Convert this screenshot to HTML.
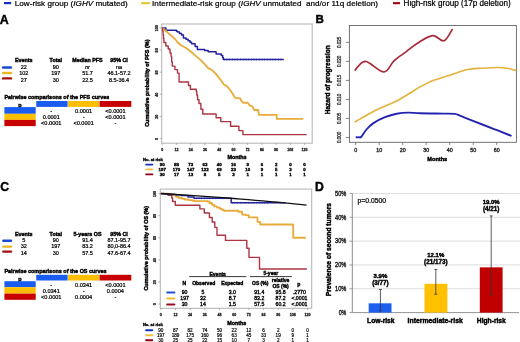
<!DOCTYPE html>
<html><head><meta charset="utf-8"><style>
html,body{margin:0;padding:0;background:#fff;}
svg{display:block;font-family:"Liberation Sans", sans-serif;will-change:transform;filter:blur(0.3px);}
</style></head><body>
<svg width="520" height="342" viewBox="0 0 520 342">
<rect width="520" height="342" fill="#fff"/>
<rect x="4" y="2" width="7.2" height="2.2" fill="#1a30c4"/>
<text x="14.7" y="5.8" text-anchor="start" style="font-size:8.1px;font-weight:400;stroke:#000;stroke-width:0.22px;" fill="#000" textLength="113" lengthAdjust="spacing">Low-risk group (<tspan font-style="italic">IGHV</tspan> mutated)</text>
<rect x="141.2" y="2.1" width="8.8" height="2.1" fill="#e4c832"/>
<text x="152.1" y="5.8" text-anchor="start" style="font-size:8.1px;font-weight:400;stroke:#000;stroke-width:0.22px;" fill="#000" textLength="225.8" lengthAdjust="spacing">Intermediate-risk group (<tspan font-style="italic">IGHV</tspan> unmutated&#160; and/or 11q deletion)</text>
<rect x="393" y="2.1" width="7.1" height="2.1" fill="#a8001c"/>
<text x="403.6" y="5.8" text-anchor="start" style="font-size:8.15px;font-weight:400;stroke:#000;stroke-width:0.22px;" fill="#000">High-risk group (17p deletion)</text>
<text x="-0.3" y="23.8" text-anchor="start" style="font-size:12.4px;font-weight:700;stroke:#000;stroke-width:0.42px;" fill="#000">A</text>
<text x="315.4" y="23.3" text-anchor="start" style="font-size:11.6px;font-weight:700;stroke:#000;stroke-width:0.42px;" fill="#000">B</text>
<text x="0.2" y="190.7" text-anchor="start" style="font-size:12.2px;font-weight:700;stroke:#000;stroke-width:0.42px;" fill="#000">C</text>
<text x="314.9" y="190.6" text-anchor="start" style="font-size:12.2px;font-weight:700;stroke:#000;stroke-width:0.42px;" fill="#000">D</text>
<text x="23.75" y="62.23" text-anchor="middle" style="font-size:5.35px;font-weight:700;stroke:#000;stroke-width:0.41px;" fill="#000">Events</text>
<text x="55.8" y="62.23" text-anchor="middle" style="font-size:5.35px;font-weight:700;stroke:#000;stroke-width:0.41px;" fill="#000">Total</text>
<text x="87.5" y="62.23" text-anchor="middle" style="font-size:5.35px;font-weight:700;stroke:#000;stroke-width:0.41px;" fill="#000">Median PFS</text>
<text x="119.0" y="62.23" text-anchor="middle" style="font-size:5.35px;font-weight:700;stroke:#000;stroke-width:0.41px;" fill="#000">95% CI</text>
<line x1="3.1" y1="67.5" x2="10.9" y2="67.5" stroke="#1a48d0" stroke-width="2.4" stroke-linecap="round"/>
<text x="23.75" y="69.08" text-anchor="middle" style="font-size:5.5px;font-weight:400;stroke:#000;stroke-width:0.22px;" fill="#000">22</text>
<text x="55.8" y="69.08" text-anchor="middle" style="font-size:5.5px;font-weight:400;stroke:#000;stroke-width:0.22px;" fill="#000">90</text>
<text x="87.5" y="69.08" text-anchor="middle" style="font-size:5.5px;font-weight:400;font-style:italic;stroke:#000;stroke-width:0.22px;" fill="#000">nr</text>
<text x="119.0" y="69.08" text-anchor="middle" style="font-size:5.5px;font-weight:400;stroke:#000;stroke-width:0.22px;" fill="#000">na</text>
<line x1="3.1" y1="73.0" x2="10.9" y2="73.0" stroke="#eab820" stroke-width="2.4" stroke-linecap="round"/>
<text x="23.75" y="75.48" text-anchor="middle" style="font-size:5.5px;font-weight:400;stroke:#000;stroke-width:0.22px;" fill="#000">102</text>
<text x="55.8" y="75.48" text-anchor="middle" style="font-size:5.5px;font-weight:400;stroke:#000;stroke-width:0.22px;" fill="#000">197</text>
<text x="87.5" y="75.48" text-anchor="middle" style="font-size:5.5px;font-weight:400;stroke:#000;stroke-width:0.22px;" fill="#000">51.7</text>
<text x="119.0" y="75.48" text-anchor="middle" style="font-size:5.5px;font-weight:400;stroke:#000;stroke-width:0.22px;" fill="#000">46.1-57.2</text>
<line x1="3.1" y1="78.4" x2="10.9" y2="78.4" stroke="#a01010" stroke-width="2.4" stroke-linecap="round"/>
<text x="23.75" y="81.68" text-anchor="middle" style="font-size:5.5px;font-weight:400;stroke:#000;stroke-width:0.22px;" fill="#000">27</text>
<text x="55.8" y="81.68" text-anchor="middle" style="font-size:5.5px;font-weight:400;stroke:#000;stroke-width:0.22px;" fill="#000">30</text>
<text x="87.5" y="81.68" text-anchor="middle" style="font-size:5.5px;font-weight:400;stroke:#000;stroke-width:0.22px;" fill="#000">22.5</text>
<text x="119.0" y="81.68" text-anchor="middle" style="font-size:5.5px;font-weight:400;stroke:#000;stroke-width:0.22px;" fill="#000">8.5-36.4</text>
<text x="23.75" y="235.53" text-anchor="middle" style="font-size:5.35px;font-weight:700;stroke:#000;stroke-width:0.41px;" fill="#000">Events</text>
<text x="55.8" y="235.53" text-anchor="middle" style="font-size:5.35px;font-weight:700;stroke:#000;stroke-width:0.41px;" fill="#000">Total</text>
<text x="87.5" y="235.53" text-anchor="middle" style="font-size:5.35px;font-weight:700;stroke:#000;stroke-width:0.41px;" fill="#000">5-years OS</text>
<text x="119.0" y="235.53" text-anchor="middle" style="font-size:5.35px;font-weight:700;stroke:#000;stroke-width:0.41px;" fill="#000">95% CI</text>
<line x1="3.35" y1="240.7" x2="11.0" y2="240.7" stroke="#1a48d0" stroke-width="2.4" stroke-linecap="round"/>
<text x="23.75" y="241.98" text-anchor="middle" style="font-size:5.5px;font-weight:400;stroke:#000;stroke-width:0.22px;" fill="#000">5</text>
<text x="55.8" y="241.98" text-anchor="middle" style="font-size:5.5px;font-weight:400;stroke:#000;stroke-width:0.22px;" fill="#000">90</text>
<text x="87.5" y="241.98" text-anchor="middle" style="font-size:5.5px;font-weight:400;stroke:#000;stroke-width:0.22px;" fill="#000">91.4</text>
<text x="119.0" y="241.98" text-anchor="middle" style="font-size:5.5px;font-weight:400;stroke:#000;stroke-width:0.22px;" fill="#000">87.1-95.7</text>
<line x1="3.35" y1="246.6" x2="11.0" y2="246.6" stroke="#eab820" stroke-width="2.4" stroke-linecap="round"/>
<text x="23.75" y="248.48" text-anchor="middle" style="font-size:5.5px;font-weight:400;stroke:#000;stroke-width:0.22px;" fill="#000">32</text>
<text x="55.8" y="248.48" text-anchor="middle" style="font-size:5.5px;font-weight:400;stroke:#000;stroke-width:0.22px;" fill="#000">197</text>
<text x="87.5" y="248.48" text-anchor="middle" style="font-size:5.5px;font-weight:400;stroke:#000;stroke-width:0.22px;" fill="#000">83.2</text>
<text x="119.0" y="248.48" text-anchor="middle" style="font-size:5.5px;font-weight:400;stroke:#000;stroke-width:0.22px;" fill="#000">80,0-86.4</text>
<line x1="3.35" y1="251.6" x2="11.0" y2="251.6" stroke="#a01010" stroke-width="2.4" stroke-linecap="round"/>
<text x="23.75" y="254.88" text-anchor="middle" style="font-size:5.5px;font-weight:400;stroke:#000;stroke-width:0.22px;" fill="#000">14</text>
<text x="55.8" y="254.88" text-anchor="middle" style="font-size:5.5px;font-weight:400;stroke:#000;stroke-width:0.22px;" fill="#000">30</text>
<text x="87.5" y="254.88" text-anchor="middle" style="font-size:5.5px;font-weight:400;stroke:#000;stroke-width:0.22px;" fill="#000">57.5</text>
<text x="119.0" y="254.88" text-anchor="middle" style="font-size:5.5px;font-weight:400;stroke:#000;stroke-width:0.22px;" fill="#000">47.6-67.4</text>
<text x="4.4" y="99.36" text-anchor="start" style="font-size:5.45px;font-weight:700;stroke:#000;stroke-width:0.42px;" fill="#000">Pairwise comparisons of the PFS curves</text>
<text x="20" y="107.14" text-anchor="middle" style="font-size:5.4px;font-weight:700;stroke:#000;stroke-width:0.41px;" fill="#000">p</text>
<rect x="36.25" y="101.0" width="31.35" height="5.9" fill="#1a5cf0"/>
<rect x="68.0" y="101.0" width="31.4" height="5.9" fill="#ffbe00"/>
<rect x="99.6" y="101.0" width="31.7" height="5.9" fill="#c80000"/>
<rect x="4.4" y="107.1" width="31.3" height="6.7" fill="#1a5cf0"/>
<rect x="4.4" y="113.8" width="31.3" height="6.1" fill="#ffbe00"/>
<rect x="4.4" y="119.9" width="31.3" height="6.2" fill="#c80000"/>
<text x="51.3" y="112.87" text-anchor="middle" style="font-size:5.6px;font-weight:400;stroke:#000;stroke-width:0.22px;" fill="#000">-</text>
<text x="83.6" y="112.87" text-anchor="middle" style="font-size:5.6px;font-weight:400;stroke:#000;stroke-width:0.22px;" fill="#000">0.0001</text>
<text x="115.4" y="112.87" text-anchor="middle" style="font-size:5.6px;font-weight:400;stroke:#000;stroke-width:0.22px;" fill="#000">&lt;0.0001</text>
<text x="51.3" y="119.27" text-anchor="middle" style="font-size:5.6px;font-weight:400;stroke:#000;stroke-width:0.22px;" fill="#000">0.0001</text>
<text x="83.6" y="119.27" text-anchor="middle" style="font-size:5.6px;font-weight:400;stroke:#000;stroke-width:0.22px;" fill="#000">-</text>
<text x="115.4" y="119.27" text-anchor="middle" style="font-size:5.6px;font-weight:400;stroke:#000;stroke-width:0.22px;" fill="#000">&lt;0.0001</text>
<text x="51.3" y="125.42" text-anchor="middle" style="font-size:5.6px;font-weight:400;stroke:#000;stroke-width:0.22px;" fill="#000">&lt;0.0001</text>
<text x="83.6" y="125.42" text-anchor="middle" style="font-size:5.6px;font-weight:400;stroke:#000;stroke-width:0.22px;" fill="#000">&lt;0.0001</text>
<text x="115.4" y="125.42" text-anchor="middle" style="font-size:5.6px;font-weight:400;stroke:#000;stroke-width:0.22px;" fill="#000">-</text>
<text x="4.4" y="272.76" text-anchor="start" style="font-size:5.45px;font-weight:700;stroke:#000;stroke-width:0.42px;" fill="#000">Pairwise comparisons of the OS curves</text>
<text x="20" y="280.94" text-anchor="middle" style="font-size:5.4px;font-weight:700;stroke:#000;stroke-width:0.41px;" fill="#000">p</text>
<rect x="36.25" y="274.8" width="31.35" height="5.7" fill="#1a5cf0"/>
<rect x="68.0" y="274.8" width="31.4" height="5.7" fill="#ffbe00"/>
<rect x="99.6" y="274.8" width="31.7" height="5.7" fill="#c80000"/>
<rect x="4.4" y="281.2" width="31.3" height="6.0" fill="#1a5cf0"/>
<rect x="4.4" y="287.2" width="31.3" height="6.4" fill="#ffbe00"/>
<rect x="4.4" y="293.6" width="31.3" height="6.2" fill="#c80000"/>
<text x="51.3" y="286.62" text-anchor="middle" style="font-size:5.6px;font-weight:400;stroke:#000;stroke-width:0.22px;" fill="#000">-</text>
<text x="83.6" y="286.62" text-anchor="middle" style="font-size:5.6px;font-weight:400;stroke:#000;stroke-width:0.22px;" fill="#000">0.0341</text>
<text x="115.4" y="286.62" text-anchor="middle" style="font-size:5.6px;font-weight:400;stroke:#000;stroke-width:0.22px;" fill="#000">&lt;0.0001</text>
<text x="51.3" y="292.82" text-anchor="middle" style="font-size:5.6px;font-weight:400;stroke:#000;stroke-width:0.22px;" fill="#000">0.0341</text>
<text x="83.6" y="292.82" text-anchor="middle" style="font-size:5.6px;font-weight:400;stroke:#000;stroke-width:0.22px;" fill="#000">-</text>
<text x="115.4" y="292.82" text-anchor="middle" style="font-size:5.6px;font-weight:400;stroke:#000;stroke-width:0.22px;" fill="#000">0.0004</text>
<text x="51.3" y="299.12" text-anchor="middle" style="font-size:5.6px;font-weight:400;stroke:#000;stroke-width:0.22px;" fill="#000">&lt;0.0001</text>
<text x="83.6" y="299.12" text-anchor="middle" style="font-size:5.6px;font-weight:400;stroke:#000;stroke-width:0.22px;" fill="#000">0.0004</text>
<text x="115.4" y="299.12" text-anchor="middle" style="font-size:5.6px;font-weight:400;stroke:#000;stroke-width:0.22px;" fill="#000">-</text>
<rect x="161.7" y="24.0" width="150.5" height="119.2" fill="none" stroke="#b8b8b8" stroke-width="1.1"/>
<line x1="159.7" y1="138.6" x2="161.7" y2="138.6" stroke="#888" stroke-width="0.6"/>
<text x="156.6" y="138.9" text-anchor="middle" style="font-size:3.7px;font-weight:700;stroke:#222;stroke-width:0.28px;" fill="#222" transform="rotate(-90 156.6 138.9)" dy="1.25">0</text>
<line x1="159.7" y1="116.46" x2="161.7" y2="116.46" stroke="#888" stroke-width="0.6"/>
<text x="156.6" y="116.75999999999999" text-anchor="middle" style="font-size:3.7px;font-weight:700;stroke:#222;stroke-width:0.28px;" fill="#222" transform="rotate(-90 156.6 116.75999999999999)" dy="1.25">20</text>
<line x1="159.7" y1="94.32" x2="161.7" y2="94.32" stroke="#888" stroke-width="0.6"/>
<text x="156.6" y="94.61999999999999" text-anchor="middle" style="font-size:3.7px;font-weight:700;stroke:#222;stroke-width:0.28px;" fill="#222" transform="rotate(-90 156.6 94.61999999999999)" dy="1.25">40</text>
<line x1="159.7" y1="72.18" x2="161.7" y2="72.18" stroke="#888" stroke-width="0.6"/>
<text x="156.6" y="72.48" text-anchor="middle" style="font-size:3.7px;font-weight:700;stroke:#222;stroke-width:0.28px;" fill="#222" transform="rotate(-90 156.6 72.48)" dy="1.25">60</text>
<line x1="159.7" y1="50.040000000000006" x2="161.7" y2="50.040000000000006" stroke="#888" stroke-width="0.6"/>
<text x="156.6" y="50.34" text-anchor="middle" style="font-size:3.7px;font-weight:700;stroke:#222;stroke-width:0.28px;" fill="#222" transform="rotate(-90 156.6 50.34)" dy="1.25">80</text>
<line x1="159.7" y1="27.89999999999999" x2="161.7" y2="27.89999999999999" stroke="#888" stroke-width="0.6"/>
<text x="156.6" y="28.199999999999992" text-anchor="middle" style="font-size:3.7px;font-weight:700;stroke:#222;stroke-width:0.28px;" fill="#222" transform="rotate(-90 156.6 28.199999999999992)" dy="1.25">100</text>
<line x1="162.2" y1="143.2" x2="162.2" y2="145.0" stroke="#888" stroke-width="0.6"/>
<text x="162.2" y="151.1" text-anchor="middle" style="font-size:3.6px;font-weight:700;stroke:#222;stroke-width:0.27px;" fill="#222">0</text>
<line x1="176.44" y1="143.2" x2="176.44" y2="145.0" stroke="#888" stroke-width="0.6"/>
<text x="176.44" y="151.1" text-anchor="middle" style="font-size:3.6px;font-weight:700;stroke:#222;stroke-width:0.27px;" fill="#222">12</text>
<line x1="190.68" y1="143.2" x2="190.68" y2="145.0" stroke="#888" stroke-width="0.6"/>
<text x="190.68" y="151.1" text-anchor="middle" style="font-size:3.6px;font-weight:700;stroke:#222;stroke-width:0.27px;" fill="#222">24</text>
<line x1="204.92000000000002" y1="143.2" x2="204.92000000000002" y2="145.0" stroke="#888" stroke-width="0.6"/>
<text x="204.92000000000002" y="151.1" text-anchor="middle" style="font-size:3.6px;font-weight:700;stroke:#222;stroke-width:0.27px;" fill="#222">36</text>
<line x1="219.16" y1="143.2" x2="219.16" y2="145.0" stroke="#888" stroke-width="0.6"/>
<text x="219.16" y="151.1" text-anchor="middle" style="font-size:3.6px;font-weight:700;stroke:#222;stroke-width:0.27px;" fill="#222">48</text>
<line x1="233.4" y1="143.2" x2="233.4" y2="145.0" stroke="#888" stroke-width="0.6"/>
<text x="233.4" y="151.1" text-anchor="middle" style="font-size:3.6px;font-weight:700;stroke:#222;stroke-width:0.27px;" fill="#222">60</text>
<line x1="247.64000000000001" y1="143.2" x2="247.64000000000001" y2="145.0" stroke="#888" stroke-width="0.6"/>
<text x="247.64000000000001" y="151.1" text-anchor="middle" style="font-size:3.6px;font-weight:700;stroke:#222;stroke-width:0.27px;" fill="#222">72</text>
<line x1="261.88" y1="143.2" x2="261.88" y2="145.0" stroke="#888" stroke-width="0.6"/>
<text x="261.88" y="151.1" text-anchor="middle" style="font-size:3.6px;font-weight:700;stroke:#222;stroke-width:0.27px;" fill="#222">84</text>
<line x1="276.12" y1="143.2" x2="276.12" y2="145.0" stroke="#888" stroke-width="0.6"/>
<text x="276.12" y="151.1" text-anchor="middle" style="font-size:3.6px;font-weight:700;stroke:#222;stroke-width:0.27px;" fill="#222">96</text>
<line x1="290.36" y1="143.2" x2="290.36" y2="145.0" stroke="#888" stroke-width="0.6"/>
<text x="290.36" y="151.1" text-anchor="middle" style="font-size:3.6px;font-weight:700;stroke:#222;stroke-width:0.27px;" fill="#222">108</text>
<line x1="304.6" y1="143.2" x2="304.6" y2="145.0" stroke="#888" stroke-width="0.6"/>
<text x="304.6" y="151.1" text-anchor="middle" style="font-size:3.6px;font-weight:700;stroke:#222;stroke-width:0.27px;" fill="#222">120</text>
<text x="148.70000000000002" y="83.2" text-anchor="middle" style="font-size:5.45px;font-weight:700;stroke:#000;stroke-width:0.42px;" fill="#000" transform="rotate(-90 148.70000000000002 83.2)">Cumulative probability of PFS (%)</text>
<text x="237.0" y="159.04" text-anchor="middle" style="font-size:5.4px;font-weight:700;stroke:#000;stroke-width:0.41px;" fill="#000">Months</text>
<text x="143.0" y="160.58" text-anchor="start" style="font-size:4.1px;font-weight:700;stroke:#000;stroke-width:0.31px;" fill="#000">No. at risk</text>
<line x1="146.2" y1="164.6" x2="152.4" y2="164.6" stroke="#1030c0" stroke-width="1.9" stroke-linecap="round"/>
<text x="162.2" y="166.18" text-anchor="middle" style="font-size:4.4px;font-weight:700;stroke:#000;stroke-width:0.34px;" fill="#000">90</text>
<text x="176.44" y="166.18" text-anchor="middle" style="font-size:4.4px;font-weight:700;stroke:#000;stroke-width:0.34px;" fill="#000">88</text>
<text x="190.68" y="166.18" text-anchor="middle" style="font-size:4.4px;font-weight:700;stroke:#000;stroke-width:0.34px;" fill="#000">73</text>
<text x="204.92000000000002" y="166.18" text-anchor="middle" style="font-size:4.4px;font-weight:700;stroke:#000;stroke-width:0.34px;" fill="#000">63</text>
<text x="219.16" y="166.18" text-anchor="middle" style="font-size:4.4px;font-weight:700;stroke:#000;stroke-width:0.34px;" fill="#000">40</text>
<text x="233.4" y="166.18" text-anchor="middle" style="font-size:4.4px;font-weight:700;stroke:#000;stroke-width:0.34px;" fill="#000">16</text>
<text x="247.64000000000001" y="166.18" text-anchor="middle" style="font-size:4.4px;font-weight:700;stroke:#000;stroke-width:0.34px;" fill="#000">9</text>
<text x="261.88" y="166.18" text-anchor="middle" style="font-size:4.4px;font-weight:700;stroke:#000;stroke-width:0.34px;" fill="#000">6</text>
<text x="276.12" y="166.18" text-anchor="middle" style="font-size:4.4px;font-weight:700;stroke:#000;stroke-width:0.34px;" fill="#000">2</text>
<text x="290.36" y="166.18" text-anchor="middle" style="font-size:4.4px;font-weight:700;stroke:#000;stroke-width:0.34px;" fill="#000">0</text>
<text x="304.6" y="166.18" text-anchor="middle" style="font-size:4.4px;font-weight:700;stroke:#000;stroke-width:0.34px;" fill="#000">0</text>
<line x1="146.2" y1="169.4" x2="152.4" y2="169.4" stroke="#f0c040" stroke-width="1.9" stroke-linecap="round"/>
<text x="162.2" y="170.98" text-anchor="middle" style="font-size:4.4px;font-weight:700;stroke:#000;stroke-width:0.34px;" fill="#000">197</text>
<text x="176.44" y="170.98" text-anchor="middle" style="font-size:4.4px;font-weight:700;stroke:#000;stroke-width:0.34px;" fill="#000">170</text>
<text x="190.68" y="170.98" text-anchor="middle" style="font-size:4.4px;font-weight:700;stroke:#000;stroke-width:0.34px;" fill="#000">147</text>
<text x="204.92000000000002" y="170.98" text-anchor="middle" style="font-size:4.4px;font-weight:700;stroke:#000;stroke-width:0.34px;" fill="#000">122</text>
<text x="219.16" y="170.98" text-anchor="middle" style="font-size:4.4px;font-weight:700;stroke:#000;stroke-width:0.34px;" fill="#000">69</text>
<text x="233.4" y="170.98" text-anchor="middle" style="font-size:4.4px;font-weight:700;stroke:#000;stroke-width:0.34px;" fill="#000">23</text>
<text x="247.64000000000001" y="170.98" text-anchor="middle" style="font-size:4.4px;font-weight:700;stroke:#000;stroke-width:0.34px;" fill="#000">10</text>
<text x="261.88" y="170.98" text-anchor="middle" style="font-size:4.4px;font-weight:700;stroke:#000;stroke-width:0.34px;" fill="#000">9</text>
<text x="276.12" y="170.98" text-anchor="middle" style="font-size:4.4px;font-weight:700;stroke:#000;stroke-width:0.34px;" fill="#000">5</text>
<text x="290.36" y="170.98" text-anchor="middle" style="font-size:4.4px;font-weight:700;stroke:#000;stroke-width:0.34px;" fill="#000">3</text>
<text x="304.6" y="170.98" text-anchor="middle" style="font-size:4.4px;font-weight:700;stroke:#000;stroke-width:0.34px;" fill="#000">0</text>
<line x1="146.2" y1="174.4" x2="152.4" y2="174.4" stroke="#900010" stroke-width="1.9" stroke-linecap="round"/>
<text x="162.2" y="175.98" text-anchor="middle" style="font-size:4.4px;font-weight:700;stroke:#000;stroke-width:0.34px;" fill="#000">30</text>
<text x="176.44" y="175.98" text-anchor="middle" style="font-size:4.4px;font-weight:700;stroke:#000;stroke-width:0.34px;" fill="#000">17</text>
<text x="190.68" y="175.98" text-anchor="middle" style="font-size:4.4px;font-weight:700;stroke:#000;stroke-width:0.34px;" fill="#000">13</text>
<text x="204.92000000000002" y="175.98" text-anchor="middle" style="font-size:4.4px;font-weight:700;stroke:#000;stroke-width:0.34px;" fill="#000">8</text>
<text x="219.16" y="175.98" text-anchor="middle" style="font-size:4.4px;font-weight:700;stroke:#000;stroke-width:0.34px;" fill="#000">5</text>
<text x="233.4" y="175.98" text-anchor="middle" style="font-size:4.4px;font-weight:700;stroke:#000;stroke-width:0.34px;" fill="#000">3</text>
<text x="247.64000000000001" y="175.98" text-anchor="middle" style="font-size:4.4px;font-weight:700;stroke:#000;stroke-width:0.34px;" fill="#000">1</text>
<text x="261.88" y="175.98" text-anchor="middle" style="font-size:4.4px;font-weight:700;stroke:#000;stroke-width:0.34px;" fill="#000">1</text>
<text x="276.12" y="175.98" text-anchor="middle" style="font-size:4.4px;font-weight:700;stroke:#000;stroke-width:0.34px;" fill="#000">1</text>
<text x="290.36" y="175.98" text-anchor="middle" style="font-size:4.4px;font-weight:700;stroke:#000;stroke-width:0.34px;" fill="#000">1</text>
<text x="304.6" y="175.98" text-anchor="middle" style="font-size:4.4px;font-weight:700;stroke:#000;stroke-width:0.34px;" fill="#000">1</text>
<polyline points="162.4,27.9 165.8,27.9 165.8,30.3 176.5,30.3 176.5,31.2 177.5,31.2 177.5,32 179.5,32 179.5,33.5 181.6,33.5 181.6,35 183.4,35 183.4,37.9 186,37.9 186,39.3 188.1,39.3 188.1,40.8 190,40.8 190,42.2 191.6,42.2 191.6,43.7 195.1,43.7 195.1,46.6 197.4,46.6 197.4,49.6 204.7,49.6 204.7,50.6 208.2,50.6 208.2,51.8 216.1,51.8 216.1,54.0 221.3,54.0 221.3,55.6 222.7,55.6 222.7,57.6 223.3,57.6 223.3,59.4 283.7,59.4 283.7,59.4" fill="none" stroke="#2222a0" stroke-width="1.5" stroke-linejoin="round"/>
<polyline points="162.4,27.9 167,32 171.7,36.1 175.2,39.2 177.5,42.2 181,45.2 185.7,47.8 190.4,51.3 195.1,55.4 201.6,60.9 208.2,68.2 212.1,70.1 216.1,74.1 221.3,80.7 223.9,84.6 226.6,85.9 230.5,90.5 235.1,97.8 240.3,98.4 241,100.5 243,102.7 247.7,102.7 249.3,105.1 252.5,106.7 254.2,110 258.2,110 259,114.8 276.7,114.8 276.7,118.8 303.3,118.8" fill="none" stroke="#e8ac3c" stroke-width="1.85" stroke-linejoin="round"/>
<line x1="224" y1="59.4" x2="283.5" y2="59.4" stroke="#3434a0" stroke-width="2.3" stroke-dasharray="0.5 2.2"/>
<polyline points="162.4,27.9 162.6,27.9 162.6,31 163.1,31 163.1,35 163.5,35 163.5,38.5 163.9,38.5 163.9,42.5 165.8,42.5 165.8,46 168.2,46 168.2,49 170,49 170,53 171.1,53 171.1,56.6 171.7,56.6 171.7,62 172.3,62 172.3,66.1 174.9,66.1 174.9,69.6 177.5,69.6 177.5,73.1 179.1,73.1 179.1,82.0 188.5,82.0 188.5,85.5 190.4,85.5 190.4,89.3 196.3,89.3 196.3,91.5 196.8,91.5 196.8,95 197.6,95 197.6,99.7 199,99.7 199,103.5 200.9,103.5 200.9,109.2 202.8,109.2 202.8,114 216.1,114 216.1,117.8 220.8,117.8 220.8,121.6 230.6,121.6 230.6,126.3 238.9,126.3 238.9,130.6 242.9,130.6 242.9,134.6 306.6,134.6" fill="none" stroke="#ae3444" stroke-width="1.4" stroke-linejoin="round"/>
<rect x="160.3" y="189.1" width="151.4" height="119.2" fill="none" stroke="#b8b8b8" stroke-width="1.1"/>
<line x1="158.3" y1="304.0" x2="160.3" y2="304.0" stroke="#888" stroke-width="0.6"/>
<text x="155.0" y="304.3" text-anchor="middle" style="font-size:3.7px;font-weight:700;stroke:#222;stroke-width:0.28px;" fill="#222" transform="rotate(-90 155.0 304.3)" dy="1.25">0</text>
<line x1="158.3" y1="281.92" x2="160.3" y2="281.92" stroke="#888" stroke-width="0.6"/>
<text x="155.0" y="282.22" text-anchor="middle" style="font-size:3.7px;font-weight:700;stroke:#222;stroke-width:0.28px;" fill="#222" transform="rotate(-90 155.0 282.22)" dy="1.25">20</text>
<line x1="158.3" y1="259.84" x2="160.3" y2="259.84" stroke="#888" stroke-width="0.6"/>
<text x="155.0" y="260.14" text-anchor="middle" style="font-size:3.7px;font-weight:700;stroke:#222;stroke-width:0.28px;" fill="#222" transform="rotate(-90 155.0 260.14)" dy="1.25">40</text>
<line x1="158.3" y1="237.76" x2="160.3" y2="237.76" stroke="#888" stroke-width="0.6"/>
<text x="155.0" y="238.06" text-anchor="middle" style="font-size:3.7px;font-weight:700;stroke:#222;stroke-width:0.28px;" fill="#222" transform="rotate(-90 155.0 238.06)" dy="1.25">60</text>
<line x1="158.3" y1="215.68" x2="160.3" y2="215.68" stroke="#888" stroke-width="0.6"/>
<text x="155.0" y="215.98000000000002" text-anchor="middle" style="font-size:3.7px;font-weight:700;stroke:#222;stroke-width:0.28px;" fill="#222" transform="rotate(-90 155.0 215.98000000000002)" dy="1.25">80</text>
<line x1="158.3" y1="193.6" x2="160.3" y2="193.6" stroke="#888" stroke-width="0.6"/>
<text x="155.0" y="193.9" text-anchor="middle" style="font-size:3.7px;font-weight:700;stroke:#222;stroke-width:0.28px;" fill="#222" transform="rotate(-90 155.0 193.9)" dy="1.25">100</text>
<line x1="160.8" y1="308.3" x2="160.8" y2="310.1" stroke="#888" stroke-width="0.6"/>
<text x="160.8" y="316.2" text-anchor="middle" style="font-size:3.6px;font-weight:700;stroke:#222;stroke-width:0.27px;" fill="#222">0</text>
<line x1="175.47" y1="308.3" x2="175.47" y2="310.1" stroke="#888" stroke-width="0.6"/>
<text x="175.47" y="316.2" text-anchor="middle" style="font-size:3.6px;font-weight:700;stroke:#222;stroke-width:0.27px;" fill="#222">12</text>
<line x1="190.14000000000001" y1="308.3" x2="190.14000000000001" y2="310.1" stroke="#888" stroke-width="0.6"/>
<text x="190.14000000000001" y="316.2" text-anchor="middle" style="font-size:3.6px;font-weight:700;stroke:#222;stroke-width:0.27px;" fill="#222">24</text>
<line x1="204.81" y1="308.3" x2="204.81" y2="310.1" stroke="#888" stroke-width="0.6"/>
<text x="204.81" y="316.2" text-anchor="middle" style="font-size:3.6px;font-weight:700;stroke:#222;stroke-width:0.27px;" fill="#222">36</text>
<line x1="219.48000000000002" y1="308.3" x2="219.48000000000002" y2="310.1" stroke="#888" stroke-width="0.6"/>
<text x="219.48000000000002" y="316.2" text-anchor="middle" style="font-size:3.6px;font-weight:700;stroke:#222;stroke-width:0.27px;" fill="#222">48</text>
<line x1="234.15" y1="308.3" x2="234.15" y2="310.1" stroke="#888" stroke-width="0.6"/>
<text x="234.15" y="316.2" text-anchor="middle" style="font-size:3.6px;font-weight:700;stroke:#222;stroke-width:0.27px;" fill="#222">60</text>
<line x1="248.82" y1="308.3" x2="248.82" y2="310.1" stroke="#888" stroke-width="0.6"/>
<text x="248.82" y="316.2" text-anchor="middle" style="font-size:3.6px;font-weight:700;stroke:#222;stroke-width:0.27px;" fill="#222">72</text>
<line x1="263.49" y1="308.3" x2="263.49" y2="310.1" stroke="#888" stroke-width="0.6"/>
<text x="263.49" y="316.2" text-anchor="middle" style="font-size:3.6px;font-weight:700;stroke:#222;stroke-width:0.27px;" fill="#222">84</text>
<line x1="278.15999999999997" y1="308.3" x2="278.15999999999997" y2="310.1" stroke="#888" stroke-width="0.6"/>
<text x="278.15999999999997" y="316.2" text-anchor="middle" style="font-size:3.6px;font-weight:700;stroke:#222;stroke-width:0.27px;" fill="#222">96</text>
<line x1="292.83000000000004" y1="308.3" x2="292.83000000000004" y2="310.1" stroke="#888" stroke-width="0.6"/>
<text x="292.83000000000004" y="316.2" text-anchor="middle" style="font-size:3.6px;font-weight:700;stroke:#222;stroke-width:0.27px;" fill="#222">108</text>
<line x1="307.5" y1="308.3" x2="307.5" y2="310.1" stroke="#888" stroke-width="0.6"/>
<text x="307.5" y="316.2" text-anchor="middle" style="font-size:3.6px;font-weight:700;stroke:#222;stroke-width:0.27px;" fill="#222">120</text>
<text x="147.9" y="248.3" text-anchor="middle" style="font-size:5.45px;font-weight:700;stroke:#000;stroke-width:0.42px;" fill="#000" transform="rotate(-90 147.9 248.3)">Cumulative probability of OS (%)</text>
<text x="236.8" y="325.34" text-anchor="middle" style="font-size:5.4px;font-weight:700;stroke:#000;stroke-width:0.41px;" fill="#000">Months</text>
<text x="142.9" y="325.88" text-anchor="start" style="font-size:4.1px;font-weight:700;stroke:#000;stroke-width:0.31px;" fill="#000">No. at risk</text>
<line x1="146.1" y1="330.2" x2="152.3" y2="330.2" stroke="#1030c0" stroke-width="1.9" stroke-linecap="round"/>
<text x="160.8" y="331.86" text-anchor="middle" style="font-size:4.6px;font-weight:400;stroke:#000;stroke-width:0.18px;" fill="#000">90</text>
<text x="175.47" y="331.86" text-anchor="middle" style="font-size:4.6px;font-weight:400;stroke:#000;stroke-width:0.18px;" fill="#000">87</text>
<text x="190.14000000000001" y="331.86" text-anchor="middle" style="font-size:4.6px;font-weight:400;stroke:#000;stroke-width:0.18px;" fill="#000">82</text>
<text x="204.81" y="331.86" text-anchor="middle" style="font-size:4.6px;font-weight:400;stroke:#000;stroke-width:0.18px;" fill="#000">74</text>
<text x="219.48000000000002" y="331.86" text-anchor="middle" style="font-size:4.6px;font-weight:400;stroke:#000;stroke-width:0.18px;" fill="#000">50</text>
<text x="234.15" y="331.86" text-anchor="middle" style="font-size:4.6px;font-weight:400;stroke:#000;stroke-width:0.18px;" fill="#000">22</text>
<text x="248.82" y="331.86" text-anchor="middle" style="font-size:4.6px;font-weight:400;stroke:#000;stroke-width:0.18px;" fill="#000">12</text>
<text x="263.49" y="331.86" text-anchor="middle" style="font-size:4.6px;font-weight:400;stroke:#000;stroke-width:0.18px;" fill="#000">6</text>
<text x="278.15999999999997" y="331.86" text-anchor="middle" style="font-size:4.6px;font-weight:400;stroke:#000;stroke-width:0.18px;" fill="#000">2</text>
<text x="292.83000000000004" y="331.86" text-anchor="middle" style="font-size:4.6px;font-weight:400;stroke:#000;stroke-width:0.18px;" fill="#000">0</text>
<text x="307.5" y="331.86" text-anchor="middle" style="font-size:4.6px;font-weight:400;stroke:#000;stroke-width:0.18px;" fill="#000">0</text>
<line x1="146.1" y1="335.3" x2="152.3" y2="335.3" stroke="#f0c040" stroke-width="1.9" stroke-linecap="round"/>
<text x="160.8" y="336.96" text-anchor="middle" style="font-size:4.6px;font-weight:400;stroke:#000;stroke-width:0.18px;" fill="#000">197</text>
<text x="175.47" y="336.96" text-anchor="middle" style="font-size:4.6px;font-weight:400;stroke:#000;stroke-width:0.18px;" fill="#000">189</text>
<text x="190.14000000000001" y="336.96" text-anchor="middle" style="font-size:4.6px;font-weight:400;stroke:#000;stroke-width:0.18px;" fill="#000">175</text>
<text x="204.81" y="336.96" text-anchor="middle" style="font-size:4.6px;font-weight:400;stroke:#000;stroke-width:0.18px;" fill="#000">160</text>
<text x="219.48000000000002" y="336.96" text-anchor="middle" style="font-size:4.6px;font-weight:400;stroke:#000;stroke-width:0.18px;" fill="#000">96</text>
<text x="234.15" y="336.96" text-anchor="middle" style="font-size:4.6px;font-weight:400;stroke:#000;stroke-width:0.18px;" fill="#000">63</text>
<text x="248.82" y="336.96" text-anchor="middle" style="font-size:4.6px;font-weight:400;stroke:#000;stroke-width:0.18px;" fill="#000">45</text>
<text x="263.49" y="336.96" text-anchor="middle" style="font-size:4.6px;font-weight:400;stroke:#000;stroke-width:0.18px;" fill="#000">33</text>
<text x="278.15999999999997" y="336.96" text-anchor="middle" style="font-size:4.6px;font-weight:400;stroke:#000;stroke-width:0.18px;" fill="#000">19</text>
<text x="292.83000000000004" y="336.96" text-anchor="middle" style="font-size:4.6px;font-weight:400;stroke:#000;stroke-width:0.18px;" fill="#000">9</text>
<text x="307.5" y="336.96" text-anchor="middle" style="font-size:4.6px;font-weight:400;stroke:#000;stroke-width:0.18px;" fill="#000">1</text>
<line x1="146.1" y1="340.2" x2="152.3" y2="340.2" stroke="#900010" stroke-width="1.9" stroke-linecap="round"/>
<text x="160.8" y="341.86" text-anchor="middle" style="font-size:4.6px;font-weight:400;stroke:#000;stroke-width:0.18px;" fill="#000">30</text>
<text x="175.47" y="341.86" text-anchor="middle" style="font-size:4.6px;font-weight:400;stroke:#000;stroke-width:0.18px;" fill="#000">25</text>
<text x="190.14000000000001" y="341.86" text-anchor="middle" style="font-size:4.6px;font-weight:400;stroke:#000;stroke-width:0.18px;" fill="#000">25</text>
<text x="204.81" y="341.86" text-anchor="middle" style="font-size:4.6px;font-weight:400;stroke:#000;stroke-width:0.18px;" fill="#000">22</text>
<text x="219.48000000000002" y="341.86" text-anchor="middle" style="font-size:4.6px;font-weight:400;stroke:#000;stroke-width:0.18px;" fill="#000">15</text>
<text x="234.15" y="341.86" text-anchor="middle" style="font-size:4.6px;font-weight:400;stroke:#000;stroke-width:0.18px;" fill="#000">10</text>
<text x="248.82" y="341.86" text-anchor="middle" style="font-size:4.6px;font-weight:400;stroke:#000;stroke-width:0.18px;" fill="#000">7</text>
<text x="263.49" y="341.86" text-anchor="middle" style="font-size:4.6px;font-weight:400;stroke:#000;stroke-width:0.18px;" fill="#000">3</text>
<text x="278.15999999999997" y="341.86" text-anchor="middle" style="font-size:4.6px;font-weight:400;stroke:#000;stroke-width:0.18px;" fill="#000">2</text>
<text x="292.83000000000004" y="341.86" text-anchor="middle" style="font-size:4.6px;font-weight:400;stroke:#000;stroke-width:0.18px;" fill="#000">1</text>
<text x="307.5" y="341.86" text-anchor="middle" style="font-size:4.6px;font-weight:400;stroke:#000;stroke-width:0.18px;" fill="#000">1</text>
<polyline points="160.8,193.6 168,193.6 168,194.2 173.4,194.2 173.4,195.3 176,195.3 176,196.8 178.8,196.8 178.8,198 182,198 182,198.8 184.9,198.8 184.9,199.5 188.5,199.5 188.5,200.1 192.6,200.1 192.6,200.7 195,200.7 195,201.1 207.5,201.1 207.5,201.5 209.5,201.5 209.5,203 212,203 212,204.8 214.2,204.8 214.2,206.4 217,206.4 217,207.6 220,207.6 220,208.8 222,208.8 222,209.8 223.8,209.8 223.8,210.75 238.3,210.75 238.3,211.7 242.1,211.7 242.1,214.6 245.4,214.6 245.4,215.1 248.7,215.1 248.7,217.4 257.5,217.4 257.5,221.8 260.2,221.8 260.2,224.5 293.2,224.5 293.2,237.7 305.9,237.7" fill="none" stroke="#e8ac3c" stroke-width="1.85" stroke-linejoin="round"/>
<polyline points="160.8,193.6 168,193.6 168,195.3 171.8,195.3 171.8,198 172.6,198 172.6,201.5 175.3,201.5 175.3,205.3 199.9,205.3 199.9,208.9 204.3,208.9 204.3,213.0 209.4,213.0 209.4,217.5 212.2,217.5 212.2,222.0 214.8,222.0 214.8,227.4 217.0,227.4 217.0,235.2 225.5,235.2 225.5,240.4 246.8,240.4 246.8,248.3 249.0,248.3 249.0,257.4 259.5,257.4 259.5,269.0 306.9,269.0" fill="none" stroke="#ae3444" stroke-width="1.4" stroke-linejoin="round"/>
<polyline points="160.8,193.6 164,193.6 164,194.1 170,194.1 170,194.6 176,194.6 176,195.1 181,195.1 181,195.6 188,195.6 188,196.9 194,196.9 194,198.2 231.2,198.2 231.2,202.8 285.5,202.8 285.5,202.8" fill="none" stroke="#2222a0" stroke-width="1.5" stroke-linejoin="round"/>
<line x1="196" y1="198.2" x2="230.5" y2="198.2" stroke="#3434a0" stroke-width="2.3" stroke-dasharray="0.5 2.2"/>
<line x1="232" y1="202.8" x2="268" y2="202.8" stroke="#3434a0" stroke-width="2.3" stroke-dasharray="0.5 2.2"/>
<polyline points="160.8,193.59 168.09,194.0 175.38,194.44 182.67,194.89 189.96,195.35 197.25,195.83 204.54,196.33 211.83,196.85 219.12,197.38 226.41,197.93 233.7,198.49 240.99,199.08 248.28,199.67 255.57,200.29 262.86,200.92 270.15,201.57 277.44,202.24 284.73,202.92 292.02,203.62 299.31,204.33 306.6,205.07" fill="none" stroke="#111" stroke-width="1.3" stroke-linejoin="round"/>
<text x="217.7" y="276.0" text-anchor="middle" style="font-size:5.0px;font-weight:700;stroke:#000;stroke-width:0.38px;" fill="#000">Events</text>
<line x1="189.2" y1="276.6" x2="246.3" y2="276.6" stroke="#222" stroke-width="0.9"/>
<text x="270.8" y="275.4" text-anchor="middle" style="font-size:5.0px;font-weight:700;stroke:#000;stroke-width:0.38px;" fill="#000">5-year</text>
<line x1="250.0" y1="276.6" x2="291.8" y2="276.6" stroke="#222" stroke-width="0.9"/>
<text x="184.3" y="285.2" text-anchor="middle" style="font-size:5.0px;font-weight:700;stroke:#000;stroke-width:0.38px;" fill="#000">N</text>
<text x="203.7" y="285.2" text-anchor="middle" style="font-size:5.0px;font-weight:700;stroke:#000;stroke-width:0.38px;" fill="#000">Observed</text>
<text x="232.3" y="285.2" text-anchor="middle" style="font-size:5.0px;font-weight:700;stroke:#000;stroke-width:0.38px;" fill="#000">Expected</text>
<text x="260.2" y="285.0" text-anchor="middle" style="font-size:5.0px;font-weight:700;stroke:#000;stroke-width:0.38px;" fill="#000">OS (%)</text>
<text x="280.6" y="281.6" text-anchor="middle" style="font-size:5.0px;font-weight:700;stroke:#000;stroke-width:0.38px;" fill="#000">relative</text>
<text x="280.6" y="288.1" text-anchor="middle" style="font-size:5.0px;font-weight:700;stroke:#000;stroke-width:0.38px;" fill="#000">OS (%)</text>
<text x="298.8" y="286.1" text-anchor="middle" style="font-size:5.0px;font-weight:700;stroke:#000;stroke-width:0.38px;" fill="#000">p</text>
<line x1="167.2" y1="292.4" x2="174.4" y2="292.4" stroke="#2050d8" stroke-width="2" stroke-linecap="round"/>
<text x="184.6" y="294.27" text-anchor="middle" style="font-size:5.2px;font-weight:400;stroke:#000;stroke-width:0.34px;" fill="#000">90</text>
<text x="203.0" y="294.27" text-anchor="middle" style="font-size:5.2px;font-weight:400;stroke:#000;stroke-width:0.34px;" fill="#000">5</text>
<text x="232.3" y="294.27" text-anchor="middle" style="font-size:5.2px;font-weight:400;stroke:#000;stroke-width:0.34px;" fill="#000">3.0</text>
<text x="259.3" y="294.27" text-anchor="middle" style="font-size:5.2px;font-weight:400;stroke:#000;stroke-width:0.34px;" fill="#000">91.4</text>
<text x="280.6" y="294.27" text-anchor="middle" style="font-size:5.2px;font-weight:400;stroke:#000;stroke-width:0.34px;" fill="#000">95.8</text>
<text x="299.4" y="294.27" text-anchor="middle" style="font-size:5.2px;font-weight:400;stroke:#000;stroke-width:0.34px;" fill="#000">.2770</text>
<line x1="167.2" y1="298.6" x2="174.4" y2="298.6" stroke="#f0c030" stroke-width="2" stroke-linecap="round"/>
<text x="184.6" y="300.47" text-anchor="middle" style="font-size:5.2px;font-weight:400;stroke:#000;stroke-width:0.34px;" fill="#000">197</text>
<text x="203.0" y="300.47" text-anchor="middle" style="font-size:5.2px;font-weight:400;stroke:#000;stroke-width:0.34px;" fill="#000">32</text>
<text x="232.3" y="300.47" text-anchor="middle" style="font-size:5.2px;font-weight:400;stroke:#000;stroke-width:0.34px;" fill="#000">8.7</text>
<text x="259.3" y="300.47" text-anchor="middle" style="font-size:5.2px;font-weight:400;stroke:#000;stroke-width:0.34px;" fill="#000">83.2</text>
<text x="280.6" y="300.47" text-anchor="middle" style="font-size:5.2px;font-weight:400;stroke:#000;stroke-width:0.34px;" fill="#000">87.2</text>
<text x="299.4" y="300.47" text-anchor="middle" style="font-size:5.2px;font-weight:400;stroke:#000;stroke-width:0.34px;" fill="#000">&lt;.0001</text>
<line x1="167.2" y1="304.4" x2="174.4" y2="304.4" stroke="#98101c" stroke-width="2" stroke-linecap="round"/>
<text x="184.6" y="306.27" text-anchor="middle" style="font-size:5.2px;font-weight:400;stroke:#000;stroke-width:0.34px;" fill="#000">30</text>
<text x="203.0" y="306.27" text-anchor="middle" style="font-size:5.2px;font-weight:400;stroke:#000;stroke-width:0.34px;" fill="#000">14</text>
<text x="232.3" y="306.27" text-anchor="middle" style="font-size:5.2px;font-weight:400;stroke:#000;stroke-width:0.34px;" fill="#000">1.5</text>
<text x="259.3" y="306.27" text-anchor="middle" style="font-size:5.2px;font-weight:400;stroke:#000;stroke-width:0.34px;" fill="#000">57.5</text>
<text x="280.6" y="306.27" text-anchor="middle" style="font-size:5.2px;font-weight:400;stroke:#000;stroke-width:0.34px;" fill="#000">60.2</text>
<text x="299.4" y="306.27" text-anchor="middle" style="font-size:5.2px;font-weight:400;stroke:#000;stroke-width:0.34px;" fill="#000">&lt;.0001</text>
<rect x="349.4" y="25.5" width="167" height="116.8" fill="none" stroke="#666" stroke-width="0.9"/>
<line x1="345.8" y1="137.4" x2="349.4" y2="137.4" stroke="#555" stroke-width="0.7"/>
<text x="339.4" y="137.4" text-anchor="middle" style="font-size:5.4px;font-weight:400;stroke:#2a2a2a;stroke-width:0.30px;" fill="#2a2a2a" transform="rotate(-90 339.4 137.4)" dy="1.95" textLength="11.2" lengthAdjust="spacingAndGlyphs">0.000</text>
<line x1="345.8" y1="118.4" x2="349.4" y2="118.4" stroke="#555" stroke-width="0.7"/>
<text x="339.4" y="118.4" text-anchor="middle" style="font-size:5.4px;font-weight:400;stroke:#2a2a2a;stroke-width:0.30px;" fill="#2a2a2a" transform="rotate(-90 339.4 118.4)" dy="1.95" textLength="11.2" lengthAdjust="spacingAndGlyphs">0.005</text>
<line x1="345.8" y1="99.4" x2="349.4" y2="99.4" stroke="#555" stroke-width="0.7"/>
<text x="339.4" y="99.4" text-anchor="middle" style="font-size:5.4px;font-weight:400;stroke:#2a2a2a;stroke-width:0.30px;" fill="#2a2a2a" transform="rotate(-90 339.4 99.4)" dy="1.95" textLength="11.2" lengthAdjust="spacingAndGlyphs">0.010</text>
<line x1="345.8" y1="80.4" x2="349.4" y2="80.4" stroke="#555" stroke-width="0.7"/>
<text x="339.4" y="80.4" text-anchor="middle" style="font-size:5.4px;font-weight:400;stroke:#2a2a2a;stroke-width:0.30px;" fill="#2a2a2a" transform="rotate(-90 339.4 80.4)" dy="1.95" textLength="11.2" lengthAdjust="spacingAndGlyphs">0.015</text>
<line x1="345.8" y1="61.400000000000006" x2="349.4" y2="61.400000000000006" stroke="#555" stroke-width="0.7"/>
<text x="339.4" y="61.400000000000006" text-anchor="middle" style="font-size:5.4px;font-weight:400;stroke:#2a2a2a;stroke-width:0.30px;" fill="#2a2a2a" transform="rotate(-90 339.4 61.400000000000006)" dy="1.95" textLength="11.2" lengthAdjust="spacingAndGlyphs">0.020</text>
<line x1="345.8" y1="42.400000000000006" x2="349.4" y2="42.400000000000006" stroke="#555" stroke-width="0.7"/>
<text x="339.4" y="42.400000000000006" text-anchor="middle" style="font-size:5.4px;font-weight:400;stroke:#2a2a2a;stroke-width:0.30px;" fill="#2a2a2a" transform="rotate(-90 339.4 42.400000000000006)" dy="1.95" textLength="11.2" lengthAdjust="spacingAndGlyphs">0.025</text>
<line x1="355.7" y1="142.3" x2="355.7" y2="145.2" stroke="#555" stroke-width="0.7"/>
<text x="355.7" y="152.20000000000002" text-anchor="middle" style="font-size:5.3px;font-weight:400;stroke:#2a2a2a;stroke-width:0.38px;" fill="#2a2a2a">0</text>
<line x1="379.2" y1="142.3" x2="379.2" y2="145.2" stroke="#555" stroke-width="0.7"/>
<text x="379.2" y="152.20000000000002" text-anchor="middle" style="font-size:5.3px;font-weight:400;stroke:#2a2a2a;stroke-width:0.38px;" fill="#2a2a2a">10</text>
<line x1="402.7" y1="142.3" x2="402.7" y2="145.2" stroke="#555" stroke-width="0.7"/>
<text x="402.7" y="152.20000000000002" text-anchor="middle" style="font-size:5.3px;font-weight:400;stroke:#2a2a2a;stroke-width:0.38px;" fill="#2a2a2a">20</text>
<line x1="426.2" y1="142.3" x2="426.2" y2="145.2" stroke="#555" stroke-width="0.7"/>
<text x="426.2" y="152.20000000000002" text-anchor="middle" style="font-size:5.3px;font-weight:400;stroke:#2a2a2a;stroke-width:0.38px;" fill="#2a2a2a">30</text>
<line x1="449.7" y1="142.3" x2="449.7" y2="145.2" stroke="#555" stroke-width="0.7"/>
<text x="449.7" y="152.20000000000002" text-anchor="middle" style="font-size:5.3px;font-weight:400;stroke:#2a2a2a;stroke-width:0.38px;" fill="#2a2a2a">40</text>
<line x1="473.2" y1="142.3" x2="473.2" y2="145.2" stroke="#555" stroke-width="0.7"/>
<text x="473.2" y="152.20000000000002" text-anchor="middle" style="font-size:5.3px;font-weight:400;stroke:#2a2a2a;stroke-width:0.38px;" fill="#2a2a2a">50</text>
<line x1="496.7" y1="142.3" x2="496.7" y2="145.2" stroke="#555" stroke-width="0.7"/>
<text x="496.7" y="152.20000000000002" text-anchor="middle" style="font-size:5.3px;font-weight:400;stroke:#2a2a2a;stroke-width:0.38px;" fill="#2a2a2a">60</text>
<text x="437.3" y="161.32" text-anchor="middle" style="font-size:5.6px;font-weight:700;stroke:#000;stroke-width:0.42px;" fill="#000">Months</text>
<text x="329.9" y="79.8" text-anchor="middle" style="font-size:6.5px;font-weight:700;stroke:#000;stroke-width:0.42px;" fill="#000" transform="rotate(-90 329.9 79.8)">Hazard of progression</text>
<path d="M355.2,70 C356.90,68.57 360.62,61.07 365.40,61.40 C370.18,61.73 379.13,72.10 383.90,72.00 C388.67,71.90 390.27,64.20 394.00,60.80 C397.73,57.40 402.20,54.67 406.30,51.60 C410.40,48.53 414.18,45.05 418.60,42.40 C423.02,39.75 428.57,35.97 432.80,35.70 C437.03,35.43 440.77,41.82 444.00,40.80 C447.23,39.78 450.83,31.47 452.20,29.60" fill="none" stroke="#a82a3a" stroke-width="1.7" stroke-linecap="round"/>
<path d="M355.1,121.9 C358.15,120.15 366.47,114.90 373.40,111.40 C380.33,107.90 390.48,104.02 396.70,100.90 C402.92,97.78 406.80,95.03 410.70,92.70 C414.60,90.37 416.58,88.85 420.10,86.90 C423.62,84.95 426.82,82.95 431.80,81.00 C436.78,79.05 444.08,77.12 450.00,75.20 C455.92,73.28 461.97,70.67 467.30,69.50 C472.63,68.33 477.02,68.53 482.00,68.20 C486.98,67.87 493.03,67.50 497.20,67.50 C501.37,67.50 503.90,67.72 507.00,68.20 C510.10,68.68 514.33,70.03 515.80,70.40" fill="none" stroke="#e4b23c" stroke-width="1.65" stroke-linecap="round"/>
<path d="M355.7,137.3 L361,137.3" stroke="#2424b0" stroke-width="1.9" fill="none"/>
<path d="M361,137.3 C361.92,136.00 364.43,131.87 366.50,129.50 C368.57,127.13 370.32,125.15 373.40,123.10 C376.48,121.05 381.12,118.77 385.00,117.20 C388.88,115.63 392.80,114.47 396.70,113.70 C400.60,112.93 404.50,112.67 408.40,112.60 C412.30,112.53 414.25,113.13 420.10,113.30 C425.95,113.47 437.75,113.50 443.50,113.60 C449.25,113.70 451.77,113.52 454.60,113.90 C457.43,114.28 457.55,114.78 460.50,115.90 C463.45,117.02 466.60,118.37 472.30,120.60 C478.00,122.83 488.28,126.78 494.70,129.30 C501.12,131.82 508.12,134.63 510.80,135.70" fill="none" stroke="#2424b0" stroke-width="1.9" stroke-linecap="round"/>
<line x1="352" y1="288.78000000000003" x2="520" y2="288.78000000000003" stroke="#d6d6d6" stroke-width="0.8"/>
<line x1="352" y1="264.96000000000004" x2="520" y2="264.96000000000004" stroke="#d6d6d6" stroke-width="0.8"/>
<line x1="352" y1="241.14000000000001" x2="520" y2="241.14000000000001" stroke="#d6d6d6" stroke-width="0.8"/>
<line x1="352" y1="217.32000000000002" x2="520" y2="217.32000000000002" stroke="#d6d6d6" stroke-width="0.8"/>
<line x1="352" y1="193.5" x2="520" y2="193.5" stroke="#d6d6d6" stroke-width="0.8"/>
<line x1="349.5" y1="312.6" x2="352" y2="312.6" stroke="#888" stroke-width="0.8"/>
<text x="346.3" y="314.95" text-anchor="end" style="font-size:6.6px;font-weight:400;stroke:#222;stroke-width:0.40px;" fill="#222" textLength="7.6" lengthAdjust="spacingAndGlyphs">0%</text>
<line x1="349.5" y1="288.78000000000003" x2="352" y2="288.78000000000003" stroke="#888" stroke-width="0.8"/>
<text x="346.3" y="291.13" text-anchor="end" style="font-size:6.6px;font-weight:400;stroke:#222;stroke-width:0.40px;" fill="#222" textLength="11.3" lengthAdjust="spacingAndGlyphs">10%</text>
<line x1="349.5" y1="264.96000000000004" x2="352" y2="264.96000000000004" stroke="#888" stroke-width="0.8"/>
<text x="346.3" y="267.31" text-anchor="end" style="font-size:6.6px;font-weight:400;stroke:#222;stroke-width:0.40px;" fill="#222" textLength="11.3" lengthAdjust="spacingAndGlyphs">20%</text>
<line x1="349.5" y1="241.14000000000001" x2="352" y2="241.14000000000001" stroke="#888" stroke-width="0.8"/>
<text x="346.3" y="243.49" text-anchor="end" style="font-size:6.6px;font-weight:400;stroke:#222;stroke-width:0.40px;" fill="#222" textLength="11.3" lengthAdjust="spacingAndGlyphs">30%</text>
<line x1="349.5" y1="217.32000000000002" x2="352" y2="217.32000000000002" stroke="#888" stroke-width="0.8"/>
<text x="346.3" y="219.67" text-anchor="end" style="font-size:6.6px;font-weight:400;stroke:#222;stroke-width:0.40px;" fill="#222" textLength="11.3" lengthAdjust="spacingAndGlyphs">40%</text>
<line x1="349.5" y1="193.5" x2="352" y2="193.5" stroke="#888" stroke-width="0.8"/>
<text x="346.3" y="195.85" text-anchor="end" style="font-size:6.6px;font-weight:400;stroke:#222;stroke-width:0.40px;" fill="#222" textLength="11.3" lengthAdjust="spacingAndGlyphs">50%</text>
<line x1="352.3" y1="193.3" x2="352.3" y2="312.6" stroke="#8a8a8a" stroke-width="1.0"/>
<line x1="352" y1="312.6" x2="519" y2="312.6" stroke="#888" stroke-width="0.9"/>
<rect x="368.7" y="303.3102" width="22.8" height="9.29" fill="#1f5ff0"/>
<rect x="424.5" y="283.7778" width="22.9" height="28.82" fill="#ffc000"/>
<rect x="479.8" y="267.34200000000004" width="22.8" height="45.26" fill="#c00000"/>
<line x1="380.4" y1="310.93260000000004" x2="380.4" y2="289.49460000000005" stroke="#333" stroke-width="0.8"/>
<line x1="378.9" y1="289.49460000000005" x2="381.9" y2="289.49460000000005" stroke="#333" stroke-width="0.8"/>
<line x1="378.9" y1="310.93260000000004" x2="381.9" y2="310.93260000000004" stroke="#333" stroke-width="0.8"/>
<line x1="435.8" y1="294.2586" x2="435.8" y2="269.48580000000004" stroke="#333" stroke-width="0.8"/>
<line x1="434.3" y1="269.48580000000004" x2="437.3" y2="269.48580000000004" stroke="#333" stroke-width="0.8"/>
<line x1="434.3" y1="294.2586" x2="437.3" y2="294.2586" stroke="#333" stroke-width="0.8"/>
<line x1="491.2" y1="295.2114" x2="491.2" y2="215.8908" stroke="#333" stroke-width="0.8"/>
<line x1="489.7" y1="215.8908" x2="492.7" y2="215.8908" stroke="#333" stroke-width="0.8"/>
<line x1="489.7" y1="295.2114" x2="492.7" y2="295.2114" stroke="#333" stroke-width="0.8"/>
<text x="380.4" y="277.96" text-anchor="middle" style="font-size:6.0px;font-weight:700;stroke:#000;stroke-width:0.42px;" fill="#000">3.9%</text>
<text x="380.4" y="284.77" text-anchor="middle" style="font-size:6.3px;font-weight:700;stroke:#000;stroke-width:0.42px;" fill="#000">(3/77)</text>
<text x="435.8" y="256.66" text-anchor="middle" style="font-size:6.0px;font-weight:700;stroke:#000;stroke-width:0.42px;" fill="#000">12.1%</text>
<text x="435.8" y="264.27" text-anchor="middle" style="font-size:6.3px;font-weight:700;stroke:#000;stroke-width:0.42px;" fill="#000">(21/173)</text>
<text x="491.2" y="204.16" text-anchor="middle" style="font-size:6.0px;font-weight:700;stroke:#000;stroke-width:0.42px;" fill="#000">19.0%</text>
<text x="491.2" y="211.27" text-anchor="middle" style="font-size:6.3px;font-weight:700;stroke:#000;stroke-width:0.42px;" fill="#000">(4/21)</text>
<text x="380.8" y="322.71" text-anchor="middle" style="font-size:6.7px;font-weight:700;stroke:#000;stroke-width:0.42px;" fill="#000">Low-risk</text>
<text x="435.2" y="322.77" text-anchor="middle" style="font-size:6.85px;font-weight:700;stroke:#000;stroke-width:0.42px;" fill="#000">Intermediate-risk</text>
<text x="491.3" y="322.71" text-anchor="middle" style="font-size:6.7px;font-weight:700;stroke:#000;stroke-width:0.42px;" fill="#000">High-risk</text>
<text x="357.5" y="203.0" text-anchor="start" style="font-size:6.8px;font-weight:400;stroke:#000;stroke-width:0.22px;" fill="#000">p=0.0500</text>
<text x="330.7" y="249.6" text-anchor="middle" style="font-size:6.7px;font-weight:700;stroke:#000;stroke-width:0.42px;" fill="#000" transform="rotate(-90 330.7 249.6)">Prevalence of second tumors</text>
</svg></body></html>
